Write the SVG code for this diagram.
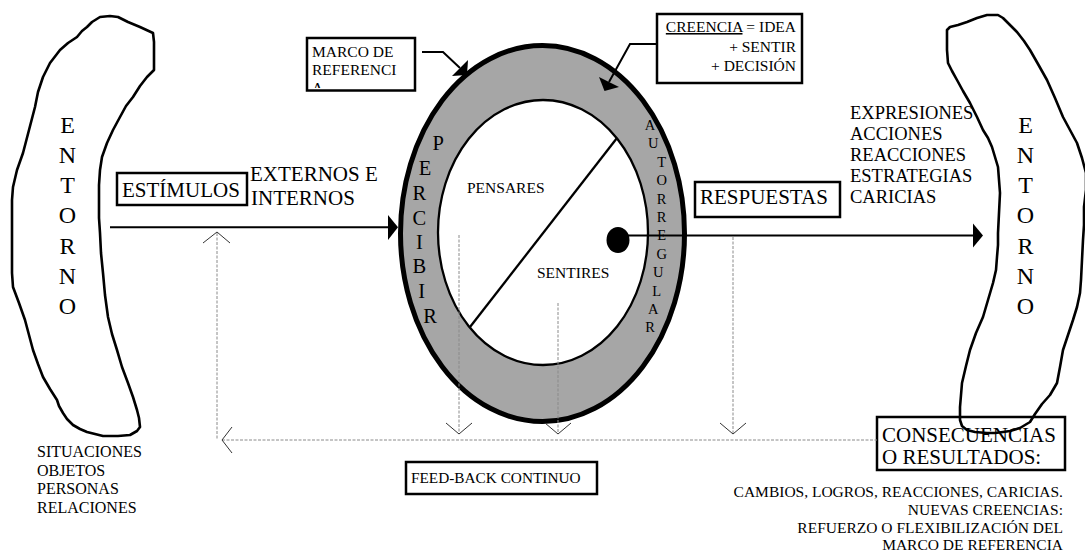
<svg xmlns="http://www.w3.org/2000/svg" width="1085" height="552" viewBox="0 0 1085 552" font-family="'Liberation Serif', 'Times New Roman', 'DejaVu Serif', serif">
<style>
text, tspan {font-family:'Liberation Serif', 'Times New Roman', 'DejaVu Serif', serif; fill:#000}
.box{fill:#fff;stroke:#000;stroke-width:2.5}
.blob{fill:none;stroke:#000;stroke-width:2.6;stroke-linejoin:round}
.fb{fill:none;stroke:#8a8a8a;stroke-width:1;stroke-dasharray:3 1.5}
.chev{fill:none;stroke:#333;stroke-width:1}
.conn{fill:none;stroke:#000;stroke-width:2}
.head{fill:#000;stroke:none}
.big{font-size:21px}
.ent{font-size:24px}
.lst{font-size:18.5px}
.sm{font-size:15.5px}
.per{font-size:20.5px}
.aut{font-size:14.5px}
</style>
<defs>
<clipPath id="marcoClip"><rect x="308.5" y="39.5" width="105" height="48.5"/></clipPath>
</defs>
<rect width="1085" height="552" fill="#fff"/>

<g id="entorno-izq">
<path class="blob" d="M92,22 L100,17 L110,16 L118,17 L128,22 L140,27 L153,33 L154,42 L154,55 L154,70 L150,74 L147,77 L140,86 L133,97 L126,106 L120,117 L113,130 L107,143 L102,157 L100,170 L99,185 L99,200 L99,218 L100,233 L101,253 L103,273 L105,295 L108,317 L112,334 L117,350 L122,367 L128,383 L133,397 L137,410 L139,418 L140,427 L137,431 L130,435 L118,436 L103,436 L95,434 L87,432 L80,429 L73,425 L67,419 L63,413 L59,406 L57,400 L50,389 L43,377 L38,364 L33,350 L29,335 L25,320 L19,303 L13,287 L12,273 L12,260 L12,230 L12,200 L13,187 L17,170 L23,153 L29,130 L35,107 L38,92 L43,77 L50,63 L60,50 L68,43 L77,37 L82,31 L87,27 Z"/>
<g class="ent" text-anchor="middle">
<text x="67.5" y="132.5">E</text><text x="67.5" y="162.8">N</text><text x="67.5" y="193.1">T</text><text x="67.5" y="223.4">O</text><text x="67.5" y="253.7">R</text><text x="67.5" y="284">N</text><text x="67.5" y="314.3">O</text>
</g>
</g>

<g id="lista-entorno">
<text style="font-size:16px" x="37" y="457">SITUACIONES</text>
<text style="font-size:16px" x="37" y="475.5">OBJETOS</text>
<text style="font-size:16px" x="37" y="494">PERSONAS</text>
<text style="font-size:16px" x="37" y="513">RELACIONES</text>
</g>

<g id="persona">
<ellipse cx="542.5" cy="233.5" rx="142" ry="188" fill="#a6a6a6" stroke="#000" stroke-width="5"/>
<ellipse cx="543" cy="232.5" rx="105" ry="132.5" fill="#fff" stroke="#000" stroke-width="2.3"/>
<line x1="617" y1="138" x2="470" y2="327" stroke="#000" stroke-width="2.3"/>
<text class="sm" x="467" y="193">PENSARES</text>
<text class="sm" x="537" y="278">SENTIRES</text>
<g class="per" text-anchor="middle">
<text x="438.3" y="150">P</text><text x="425" y="175">E</text><text x="419.3" y="199.5">R</text><text x="419.3" y="224.5">C</text><text x="419.3" y="248.5">I</text><text x="419.3" y="273">B</text><text x="421.7" y="298">I</text><text x="430" y="322.5">R</text>
</g>
<g class="aut" text-anchor="middle">
<text x="650" y="130">A</text><text x="653.3" y="148.4">U</text><text x="661.7" y="166.8">T</text><text x="661.7" y="185.2">O</text><text x="661.7" y="203.6">R</text><text x="661.7" y="222">R</text><text x="661.7" y="240.4">E</text><text x="661.7" y="258.8">G</text><text x="658.3" y="277.2">U</text><text x="656.7" y="295.6">L</text><text x="653.3" y="314">A</text><text x="650" y="332.4">R</text>
</g>
<ellipse cx="618" cy="240" rx="11.5" ry="13" fill="#000"/>
</g>

<g id="marco">
<rect class="box" x="307" y="38" width="108" height="52.5"/>
<g clip-path="url(#marcoClip)" class="sm">
<text x="312" y="57">MARCO DE</text>
<text x="312" y="75">REFERENCI</text>
<text x="312" y="93">A</text>
</g>
</g>

<g id="creencia">
<rect class="box" x="657" y="14" width="145" height="69"/>
<g class="sm" text-anchor="end">
<text x="796" y="32"><tspan text-decoration="underline">CREENCIA</tspan> = IDEA</text>
<text x="796" y="52">+ SENTIR</text>
<text x="796" y="71">+ DECISIÓN</text>
</g>
</g>

<g id="estimulos">
<rect class="box" x="117" y="173" width="130" height="32"/>
<text class="big" x="122" y="197">ESTÍMULOS</text>
<text class="big" x="250" y="181">EXTERNOS E</text>
<text class="big" x="251" y="205">INTERNOS</text>
</g>

<g id="respuestas">
<rect class="box" x="695" y="182" width="145" height="35"/>
<text class="big" x="700" y="204">RESPUESTAS</text>
<g class="lst">
<text x="850" y="119">EXPRESIONES</text>
<text x="850" y="140">ACCIONES</text>
<text x="850" y="161">REACCIONES</text>
<text x="850" y="182">ESTRATEGIAS</text>
<text x="850" y="203">CARICIAS</text>
</g>
</g>

<g id="feedback">
<rect class="box" x="406" y="462" width="191" height="32"/>
<text x="411" y="483" style="font-size:15.3px">FEED-BACK CONTINUO</text>
</g>

<g id="consecuencias">
<rect class="box" x="877" y="417" width="188" height="53"/>
<text class="big" x="882" y="441.5">CONSECUENCIAS</text>
<text class="big" x="882" y="464">O RESULTADOS:</text>
<g class="sm" text-anchor="end">
<text x="1063" y="497">CAMBIOS, LOGROS, REACCIONES, CARICIAS.</text>
<text x="1063" y="515">NUEVAS CREENCIAS:</text>
<text x="1063" y="533">REFUERZO O FLEXIBILIZACIÓN DEL</text>
<text x="1063" y="550">MARCO DE REFERENCIA</text>
</g>
</g>

<g id="entorno-der">
<path class="blob" d="M947,30 L950,27 L958,25 L967,22 L977,18 L987,15 L998,15 L1003,18 L1007,22 L1012,27 L1017,32 L1024,41 L1030,50 L1038,64 L1047,80 L1055,98 L1063,117 L1070,130 L1077,143 L1082,158 L1086,173 L1086,190 L1084,207 L1084,225 L1083,240 L1082,260 L1081,280 L1080,293 L1077,307 L1073,320 L1068,335 L1063,350 L1060,367 L1057,383 L1050,395 L1042,404 L1035,414 L1030,422 L1020,428 L1010,431 L1003,432 L995,433 L987,433 L975,432 L967,430 L962,426 L960,420 L960,413 L960,407 L961,395 L962,383 L966,366 L970,350 L976,333 L983,317 L988,300 L993,283 L996,270 L997,257 L998,245 L998,233 L999,213 L1000,193 L999,180 L998,167 L995,157 L992,147 L988,138 L983,130 L977,117 L970,103 L963,91 L957,80 L952,71 L948,63 L947,50 L947,37 Z"/>
<g class="ent" text-anchor="middle">
<text x="1025.5" y="132.5">E</text><text x="1025.5" y="162.8">N</text><text x="1025.5" y="193.1">T</text><text x="1025.5" y="223.4">O</text><text x="1025.5" y="253.7">R</text><text x="1025.5" y="284">N</text><text x="1025.5" y="314.3">O</text>
</g>
</g>

<g id="connectors">
<line class="conn" x1="110" y1="227.3" x2="389" y2="227.3"/>
<polygon class="head" points="388,215 398,227.3 388,240"/>
<line class="conn" x1="618" y1="235.5" x2="974" y2="235.5"/>
<polygon class="head" points="973,223.5 983,235.5 973,247.5"/>
<polyline class="conn" points="422,52 443,52 460,68"/>
<polygon class="head" points="468,60 467,75 452,76"/>
<polyline class="conn" points="657,44 630,44 609,82"/>
<polygon class="head" points="599,77 619,87 604.5,91"/>
<line class="fb" x1="217" y1="233" x2="217" y2="440"/>
<polyline class="chev" points="203,243 217,232 230,243"/>
<line class="fb" x1="222" y1="440" x2="877" y2="440"/>
<polyline class="chev" points="232,427 222,440 232,453"/>
<line class="fb" x1="459" y1="235" x2="459" y2="434"/>
<polyline class="chev" points="446,423 459,434 472,423"/>
<line class="fb" x1="558" y1="303" x2="558" y2="434"/>
<polyline class="chev" points="545,423 558,434 571,423"/>
<line class="fb" x1="733" y1="237" x2="733" y2="434"/>
<polyline class="chev" points="720,423 733,434 746,423"/>
</g>
</svg>
